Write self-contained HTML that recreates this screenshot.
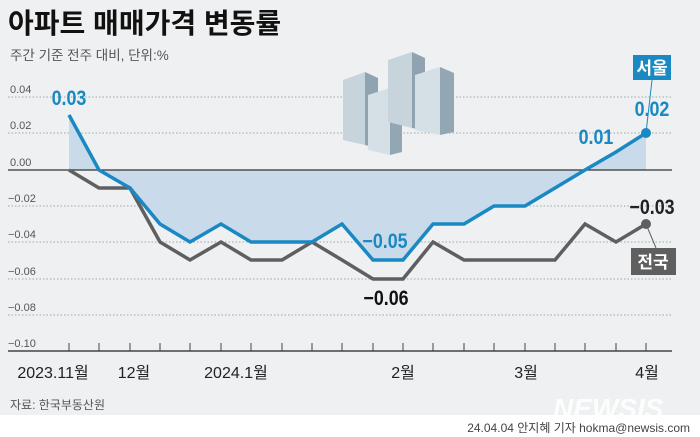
<!DOCTYPE html>
<html><head><meta charset="utf-8"><style>
body{margin:0;width:700px;height:437px;overflow:hidden;background:#fff;font-family:"Liberation Sans","Noto Sans CJK KR",sans-serif;}
</style></head><body>
<svg width="700" height="437" xmlns="http://www.w3.org/2000/svg" style="display:block">
<rect width="700" height="415" fill="#eef0f1"/>
<text x="8" y="33" font-size="28" font-weight="bold" fill="#111" font-family="Liberation Sans,Noto Sans CJK KR,sans-serif">아파트 매매가격 변동률</text>
<text x="10" y="60" font-size="13.5" fill="#555" font-family="Liberation Sans,Noto Sans CJK KR,sans-serif">주간 기준 전주 대비, 단위:%</text>
<g stroke="#9aa" stroke-dasharray="1.5,2" stroke-width="1">
<line x1="8" y1="97" x2="672" y2="97"/><line x1="8" y1="133" x2="672" y2="133"/>
<line x1="8" y1="206" x2="672" y2="206"/><line x1="8" y1="242" x2="672" y2="242"/>
<line x1="8" y1="279" x2="672" y2="279"/><line x1="8" y1="315" x2="672" y2="315"/>
</g>
<g font-size="11" fill="#555" font-family="Liberation Sans,sans-serif">
<text x="10" y="93">0.04</text><text x="10" y="129">0.02</text><text x="10" y="166">0.00</text>
<text x="8" y="202">−0.02</text><text x="8" y="238">−0.04</text><text x="8" y="275">−0.06</text>
<text x="8" y="311">−0.08</text><text x="8" y="347">−0.10</text>
</g>
<polygon fill="#c9dbea" points="69,115 99,170 130,188 160,224 190,242 221,224 251,242 282,242 312,242 342,224 373,260 403,260 433,224 464,224 494,206 525,206 555,188 585,170 616,152 646,133 646,170 69,170"/>
<line x1="8" y1="170" x2="672" y2="170" stroke="#333" stroke-width="1.2"/>
<polyline fill="none" stroke="#5f5f5f" stroke-width="3.5" stroke-linejoin="miter" points="69,170 99,188 130,188 160,242 190,260 221,242 251,260 282,260 312,242 342,260 373,279 403,279 433,242 464,260 494,260 525,260 555,260 585,224 616,242 646,224"/>
<polyline fill="none" stroke="#1a88c2" stroke-width="3.5" points="69,115 99,170 130,188 160,224 190,242 221,224 251,242 282,242 312,242 342,224 373,260 403,260 433,224 464,224 494,206 525,206 555,188 585,170 616,152 646,133"/>
<circle cx="646" cy="133" r="5" fill="#1a88c2"/>
<circle cx="646" cy="224" r="5" fill="#5f5f5f"/>
<line x1="8" y1="351" x2="672" y2="351" stroke="#444" stroke-width="1.5"/>
<g stroke="#444" stroke-width="1">
<line x1="69" y1="343" x2="69" y2="351"/><line x1="99" y1="343" x2="99" y2="351"/><line x1="130" y1="343" x2="130" y2="351"/><line x1="160" y1="343" x2="160" y2="351"/><line x1="190" y1="343" x2="190" y2="351"/><line x1="221" y1="343" x2="221" y2="351"/><line x1="251" y1="343" x2="251" y2="351"/><line x1="282" y1="343" x2="282" y2="351"/><line x1="312" y1="343" x2="312" y2="351"/><line x1="342" y1="343" x2="342" y2="351"/><line x1="373" y1="343" x2="373" y2="351"/><line x1="403" y1="343" x2="403" y2="351"/><line x1="433" y1="343" x2="433" y2="351"/><line x1="464" y1="343" x2="464" y2="351"/><line x1="494" y1="343" x2="494" y2="351"/><line x1="525" y1="343" x2="525" y2="351"/><line x1="555" y1="343" x2="555" y2="351"/><line x1="585" y1="343" x2="585" y2="351"/><line x1="616" y1="343" x2="616" y2="351"/><line x1="646" y1="343" x2="646" y2="351"/>
</g>
<g font-size="16" fill="#222" font-family="Liberation Sans,Noto Sans CJK KR,sans-serif" text-anchor="middle">
<text x="53" y="378">2023.11월</text><text x="134" y="378">12월</text><text x="236" y="378">2024.1월</text>
<text x="403" y="378">2월</text><text x="526" y="378">3월</text><text x="647" y="378">4월</text>
</g>
<g font-weight="bold" font-family="Liberation Sans,sans-serif" text-anchor="middle" font-size="21">
<text x="69" y="105" fill="#1a88c2" transform="translate(69,0) scale(0.85,1) translate(-69,0)">0.03</text>
<text x="596" y="144" fill="#1a88c2" transform="translate(596,0) scale(0.85,1) translate(-596,0)">0.01</text>
<text x="652" y="116" fill="#1a88c2" transform="translate(652,0) scale(0.85,1) translate(-652,0)">0.02</text>
<text x="385" y="248" fill="#1a88c2" transform="translate(385,0) scale(0.85,1) translate(-385,0)">−0.05</text>
<text x="386" y="305" fill="#111" transform="translate(386,0) scale(0.85,1) translate(-386,0)">−0.06</text>
<text x="652" y="214" fill="#222" transform="translate(652,0) scale(0.85,1) translate(-652,0)">−0.03</text>
</g>
<line x1="646" y1="133" x2="652" y2="80" stroke="#1a88c2" stroke-width="1"/>
<rect x="633" y="55" width="38" height="25" fill="#1a88c2"/>
<text x="652" y="74" font-size="17" font-weight="bold" fill="#fff" text-anchor="middle" font-family="Noto Sans CJK KR,sans-serif">서울</text>
<line x1="646" y1="224" x2="656" y2="248" stroke="#5f5f5f" stroke-width="1"/>
<rect x="631" y="248" width="45" height="27" fill="#5f5f5f"/>
<text x="653" y="268" font-size="17" font-weight="bold" fill="#fff" text-anchor="middle" font-family="Noto Sans CJK KR,sans-serif">전국</text>
<g>
<polygon points="343,80 365,72 365,145 343,140" fill="#c8d4dc"/><polygon points="365,72 378,78 378,148 365,145" fill="#8fa3b0"/>
<polygon points="368,95 390,88 390,155 368,150" fill="#d5dfe6"/><polygon points="390,88 402,94 402,152 390,155" fill="#93a6b3"/>
<polygon points="388,60 412,52 412,128 388,122" fill="#c8d4dc"/><polygon points="412,52 425,58 425,130 412,128" fill="#8fa3b0"/>
<polygon points="415,75 440,67 440,135 415,130" fill="#d5dfe6"/><polygon points="440,67 454,73 454,132 440,135" fill="#93a6b3"/>
</g>
<text x="10" y="409" font-size="12" fill="#555" font-family="Liberation Sans,Noto Sans CJK KR,sans-serif">자료: 한국부동산원</text>
<text x="553" y="418" font-size="28" font-weight="bold" font-style="italic" fill="#fff" opacity="0.9" font-family="Liberation Sans,sans-serif">NEWSIS</text>
<text x="690" y="432" font-size="12" fill="#444" text-anchor="end" font-family="Liberation Sans,Noto Sans CJK KR,sans-serif">24.04.04 안지혜 기자 hokma@newsis.com</text>
</svg>
</body></html>
